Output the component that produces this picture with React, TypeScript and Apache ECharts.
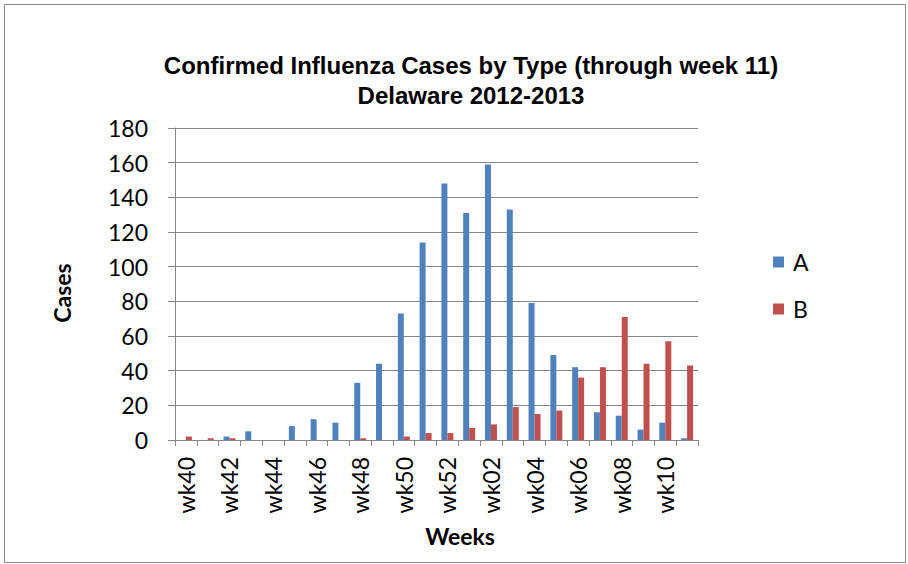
import React, { useEffect, useRef } from "react";
import * as echarts from "echarts";

const weeks = [
  "wk40", "wk41", "wk42", "wk43", "wk44", "wk45", "wk46", "wk47", "wk48", "wk49", "wk50", "wk51", "wk52",
  "wk01", "wk02", "wk03", "wk04", "wk05", "wk06", "wk07", "wk08", "wk09", "wk10", "wk11",
];
const typeA = [0, 0, 2, 5, 0, 8, 12, 10, 33, 44, 73, 114, 148, 131, 159, 133, 79, 49, 42, 16, 14, 6, 10, 1];
const typeB = [2, 1, 1, 0, 0, 0, 0, 0, 1, 0, 2, 4, 4, 7, 9, 19, 15, 17, 36, 42, 71, 44, 57, 43];
const yTicks = { min: 0, max: 180, interval: 20 };

const titleLines = ["Confirmed Influenza Cases by Type (through week 11)", "Delaware 2012-2013"];
const LABEL_FONT = "Lato, 'Open Sans', sans-serif";
const TITLE_FONT = "'Liberation Sans', Arial, sans-serif";
const GRID_COLOR = "#868686";

export default function App() {
  const ref = useRef<HTMLDivElement>(null);

  useEffect(() => {
    document.body.style.margin = "0";
    if (!ref.current) return;
    const chart = echarts.init(ref.current, undefined, { renderer: "svg" });
    chart.setOption({
      animation: false,
      backgroundColor: "#ffffff",
      legend: {
        orient: "vertical",
        left: 768,
        top: 245,
        itemWidth: 11,
        itemHeight: 11,
        itemGap: 23,
        icon: "rect",
        data: ["A", "B"],
        textStyle: { fontFamily: LABEL_FONT, fontSize: 23, lineHeight: 24, color: "#000", padding: [0, 0, 0, 4] },
      },
      grid: { left: 175, right: 210, top: 128, bottom: 124, containLabel: false },
      xAxis: {
        type: "category",
        data: weeks,
        boundaryGap: true,
        axisLine: { show: true, lineStyle: { color: GRID_COLOR, width: 1 } },
        axisTick: { show: true, interval: 0, length: 6, lineStyle: { color: GRID_COLOR } },
        axisLabel: {
          interval: 1,
          rotate: 90,
          margin: 17,
          fontFamily: LABEL_FONT,
          fontSize: 23,
          color: "#000",
        },
        splitLine: { show: false },
      },
      yAxis: {
        type: "value",
        min: yTicks.min,
        max: yTicks.max,
        interval: yTicks.interval,
        axisLine: { show: true, lineStyle: { color: GRID_COLOR, width: 1 } },
        axisTick: { show: true, length: 7, lineStyle: { color: GRID_COLOR } },
        axisLabel: { margin: 27, fontFamily: LABEL_FONT, fontSize: 23, color: "#000" },
        splitLine: { show: true, lineStyle: { color: GRID_COLOR, width: 1 } },
      },
      series: [
        {
          name: "A",
          type: "bar",
          data: typeA,
          barGap: "0%",
          barCategoryGap: "45%",
          itemStyle: { color: "#4F81BD" },
        },
        {
          name: "B",
          type: "bar",
          data: typeB,
          barGap: "0%",
          barCategoryGap: "45%",
          itemStyle: { color: "#C0504D" },
        },
      ],
      graphic: [
        {
          type: "rect",
          shape: { x: 4.5, y: 4.5, width: 901, height: 558 },
          style: { fill: "none", stroke: "#8a8a8a", lineWidth: 1 },
          silent: true,
        },
        ...titleLines.map((line, i) => ({
          type: "text",
          x: 471,
          y: 65 + i * 30,
          style: {
            text: line,
            fontFamily: TITLE_FONT,
            fontWeight: "bold",
            fontSize: 24,
            fill: "#000",
            align: "center",
            verticalAlign: "middle",
          },
        })),
        {
          type: "text",
          x: 62,
          y: 293,
          rotation: Math.PI / 2,
          style: {
            text: "Cases",
            fontFamily: LABEL_FONT,
            fontWeight: "bold",
            fontSize: 23,
            fill: "#000",
            align: "center",
            verticalAlign: "middle",
          },
        },
        {
          type: "text",
          x: 460,
          y: 536,
          style: {
            text: "Weeks",
            fontFamily: LABEL_FONT,
            fontWeight: "bold",
            fontSize: 23,
            fill: "#000",
            align: "center",
            verticalAlign: "middle",
          },
        },
      ],
    });
    return () => chart.dispose();
  }, []);

  return <div ref={ref} style={{ width: 908, height: 564 }} />;
}
